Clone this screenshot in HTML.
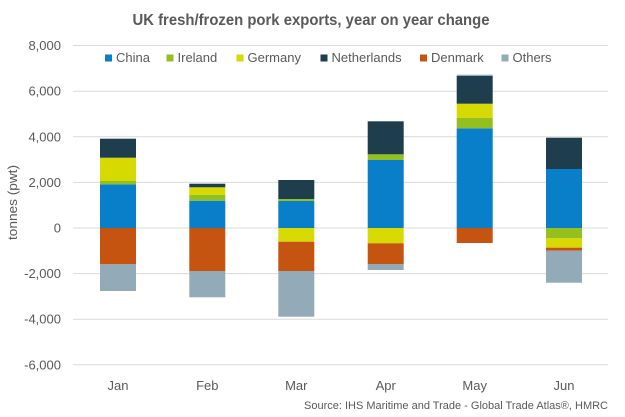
<!DOCTYPE html>
<html>
<head>
<meta charset="utf-8">
<style>
  html,body{margin:0;padding:0;background:#fff;}
  svg{display:block;}
  text{font-family:"Liberation Sans",Arial,sans-serif;fill:#595959;}
</style>
</head>
<body>
<svg width="625" height="417" viewBox="0 0 625 417" xmlns="http://www.w3.org/2000/svg">
  <rect width="625" height="417" fill="#fff"/>
  <!-- title -->
  <text x="311" y="25" font-size="15.5" font-weight="bold" text-anchor="middle" textLength="357" lengthAdjust="spacingAndGlyphs">UK fresh/frozen pork exports, year on year change</text>

  <!-- gridlines -->
  <g stroke="#d9d9d9" stroke-width="1">
    <line x1="73" x2="608" y1="45.5" y2="45.5"/>
    <line x1="73" x2="608" y1="91.2" y2="91.2"/>
    <line x1="73" x2="608" y1="136.8" y2="136.8"/>
    <line x1="73" x2="608" y1="182.4" y2="182.4"/>
    <line x1="73" x2="608" y1="228" y2="228"/>
    <line x1="73" x2="608" y1="273.6" y2="273.6"/>
    <line x1="73" x2="608" y1="319.2" y2="319.2"/>
    <line x1="73" x2="608" y1="364.8" y2="364.8"/>
  </g>

  <!-- y labels -->
  <g font-size="13" text-anchor="end">
    <text x="61" y="50">8,000</text>
    <text x="61" y="95.7">6,000</text>
    <text x="61" y="141.3">4,000</text>
    <text x="61" y="186.9">2,000</text>
    <text x="61" y="232.5">0</text>
    <text x="61" y="278.1">-2,000</text>
    <text x="61" y="323.7">-4,000</text>
    <text x="61" y="369.3">-6,000</text>
  </g>
  <text font-size="13" text-anchor="middle" transform="translate(17,202.5) rotate(-90)" textLength="75" lengthAdjust="spacingAndGlyphs">tonnes (pwt)</text>

  <!-- legend -->
  <g font-size="13">
    <rect x="105" y="54.5" width="7" height="7" fill="#0a7fc9"/>
    <text x="116" y="62">China</text>
    <rect x="166.5" y="54.5" width="7" height="7" fill="#93c01f"/>
    <text x="177.5" y="62">Ireland</text>
    <rect x="236.5" y="54.5" width="7" height="7" fill="#d6da00"/>
    <text x="247.5" y="62">Germany</text>
    <rect x="320.5" y="54.5" width="7" height="7" fill="#1e3e4e"/>
    <text x="331.5" y="62">Netherlands</text>
    <rect x="420" y="54.5" width="7" height="7" fill="#c4540f"/>
    <text x="431" y="62">Denmark</text>
    <rect x="501.5" y="54.5" width="7" height="7" fill="#93abb8"/>
    <text x="512.5" y="62">Others</text>
  </g>

  <!-- Jan -->
  <g>
    <rect x="100" y="184.3" width="36" height="43.7" fill="#0a7fc9"/>
    <rect x="100" y="181" width="36" height="3.3" fill="#93c01f"/>
    <rect x="100" y="157.7" width="36" height="23.3" fill="#d6da00"/>
    <rect x="100" y="138.7" width="36" height="19" fill="#1e3e4e"/>
    <rect x="100" y="228" width="36" height="36.3" fill="#c4540f"/>
    <rect x="100" y="264.3" width="36" height="26.7" fill="#93abb8"/>
  </g>
  <!-- Feb -->
  <g>
    <rect x="189.3" y="200.7" width="36" height="27.3" fill="#0a7fc9"/>
    <rect x="189.3" y="194.7" width="36" height="6" fill="#93c01f"/>
    <rect x="189.3" y="187.3" width="36" height="7.4" fill="#d6da00"/>
    <rect x="189.3" y="183.7" width="36" height="3.6" fill="#1e3e4e"/>
    <rect x="189.3" y="228" width="36" height="43" fill="#c4540f"/>
    <rect x="189.3" y="271" width="36" height="26.3" fill="#93abb8"/>
  </g>
  <!-- Mar -->
  <g>
    <rect x="278.3" y="201" width="36" height="27" fill="#0a7fc9"/>
    <rect x="278.3" y="199" width="36" height="2" fill="#93c01f"/>
    <rect x="278.3" y="180" width="36" height="19" fill="#1e3e4e"/>
    <rect x="278.3" y="228" width="36" height="13.7" fill="#d6da00"/>
    <rect x="278.3" y="241.7" width="36" height="29.3" fill="#c4540f"/>
    <rect x="278.3" y="271" width="36" height="45.7" fill="#93abb8"/>
  </g>
  <!-- Apr -->
  <g>
    <rect x="367.7" y="160" width="36" height="68" fill="#0a7fc9"/>
    <rect x="367.7" y="154.3" width="36" height="5.7" fill="#93c01f"/>
    <rect x="367.7" y="121.3" width="36" height="33" fill="#1e3e4e"/>
    <rect x="367.7" y="228" width="36" height="15.3" fill="#d6da00"/>
    <rect x="367.7" y="243.3" width="36" height="20.7" fill="#c4540f"/>
    <rect x="367.7" y="264" width="36" height="6" fill="#93abb8"/>
  </g>
  <!-- May -->
  <g>
    <rect x="456.7" y="128.3" width="36" height="99.7" fill="#0a7fc9"/>
    <rect x="456.7" y="117.7" width="36" height="10.6" fill="#93c01f"/>
    <rect x="456.7" y="103.7" width="36" height="14" fill="#d6da00"/>
    <rect x="456.7" y="76" width="36" height="27.7" fill="#1e3e4e"/>
    <rect x="456.7" y="74.7" width="36" height="1.3" fill="#93abb8"/>
    <rect x="456.7" y="228" width="36" height="15" fill="#c4540f"/>
  </g>
  <!-- Jun -->
  <g>
    <rect x="546" y="169" width="36" height="59" fill="#0a7fc9"/>
    <rect x="546" y="137.7" width="36" height="31.3" fill="#1e3e4e"/>
    <rect x="546" y="228" width="36" height="10.3" fill="#93c01f"/>
    <rect x="546" y="238.3" width="36" height="9.4" fill="#d6da00"/>
    <rect x="546" y="247.7" width="36" height="3" fill="#c4540f"/>
    <rect x="546" y="250.7" width="36" height="32" fill="#93abb8"/>
  </g>

  <!-- x labels -->
  <g font-size="13" text-anchor="middle">
    <text x="118" y="390">Jan</text>
    <text x="207.3" y="390">Feb</text>
    <text x="296.3" y="390">Mar</text>
    <text x="385.7" y="390">Apr</text>
    <text x="474.7" y="390">May</text>
    <text x="564" y="390">Jun</text>
  </g>

  <!-- source -->
  <text x="304" y="409" font-size="11" textLength="304" lengthAdjust="spacingAndGlyphs">Source:  IHS Maritime and Trade - Global Trade Atlas®, HMRC</text>
</svg>
</body>
</html>
